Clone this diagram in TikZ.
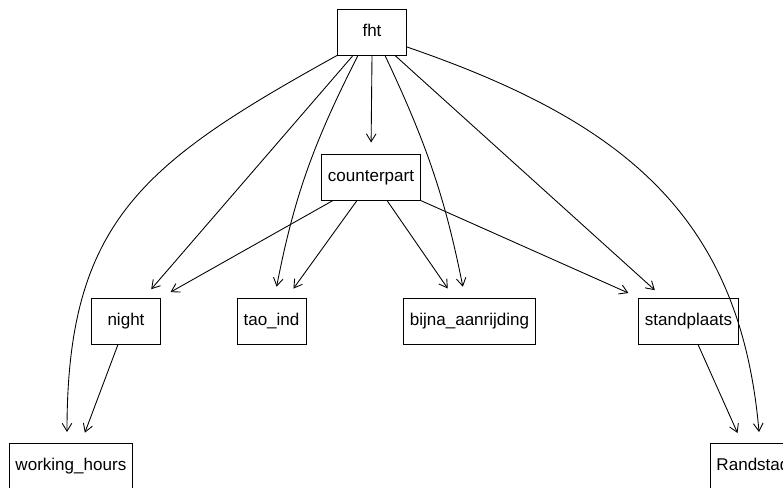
\documentclass[tikz,border=0pt]{standalone}
\usepackage{fontspec}
\setmainfont{Liberation Sans}
\usetikzlibrary{arrows.meta}

\begin{document}
\begin{tikzpicture}[x=0.02cm,y=0.02cm,
  box/.style={draw,rectangle,line width=0.55pt,minimum width=1.38cm,minimum height=0.92cm,inner xsep=0.12cm,
    font=\fontsize{9.7}{11.6}\selectfont,text height=0.72em,text depth=0.21em},
  edge/.style={line width=0.5pt,-{Straight Barb[length=4.5pt,width=5.5pt]},shorten >=0.22cm}]
\clip (0,0) rectangle (783,487);
\node (fht) [box] at(372,455) {fht};
\node (counterpart) [box] at(371,310) {counterpart};
\node (night) [box] at(126,166) {night};
\node (tao) [box] at(271.5,166) {tao\_ind};
\node (bijna) [box] at(469.5,166) {bijna\_aanrijding};
\node (stand) [box] at(688.5,166) {standplaats};
\node (hours) [box,anchor=north west] at(9,44) {working\_hours};
\node (rand) [box,anchor=north west] at(710,44) {Randstad};
% from fht
\draw [edge] (fht.south) to (counterpart.north);
\draw [edge] ([xshift=-0.38cm]fht.south) to ([xshift=0.36cm]night.north);
\draw [edge] ([xshift=-0.28cm]fht.south) to[bend right=8] ([xshift=0.06cm]tao.north);
\draw [edge] ([xshift=0.26cm]fht.south) to[bend left=7] ([xshift=-0.09cm]bijna.north);
\draw [edge] ([xshift=0.46cm]fht.south) to ([xshift=-0.51cm]stand.north);
\draw [edge] (fht.south west) to[out=209,in=90,looseness=1.2] ([xshift=1.16cm]hours.north west);
\draw [edge] ([yshift=-0.3cm]fht.east) to[out=-19,in=95,looseness=1.1] ([xshift=1cm]rand.north west);
% from counterpart
\draw [edge] ([xshift=-0.76cm]counterpart.south) to (night.north east);
\draw [edge] ([xshift=-0.28cm]counterpart.south) to ([xshift=0.31cm]tao.north);
\draw [edge] ([xshift=0.32cm]counterpart.south) to ([xshift=-0.31cm]bijna.north);
\draw [edge] (counterpart.south east) to (stand.north west);
% lower level
\draw [edge] ([xshift=-0.16cm]night.south) to ([xshift=1.44cm]hours.north west);
\draw [edge] ([xshift=0.19cm]stand.south) to ([xshift=0.64cm]rand.north west);
\end{tikzpicture}
\end{document}
